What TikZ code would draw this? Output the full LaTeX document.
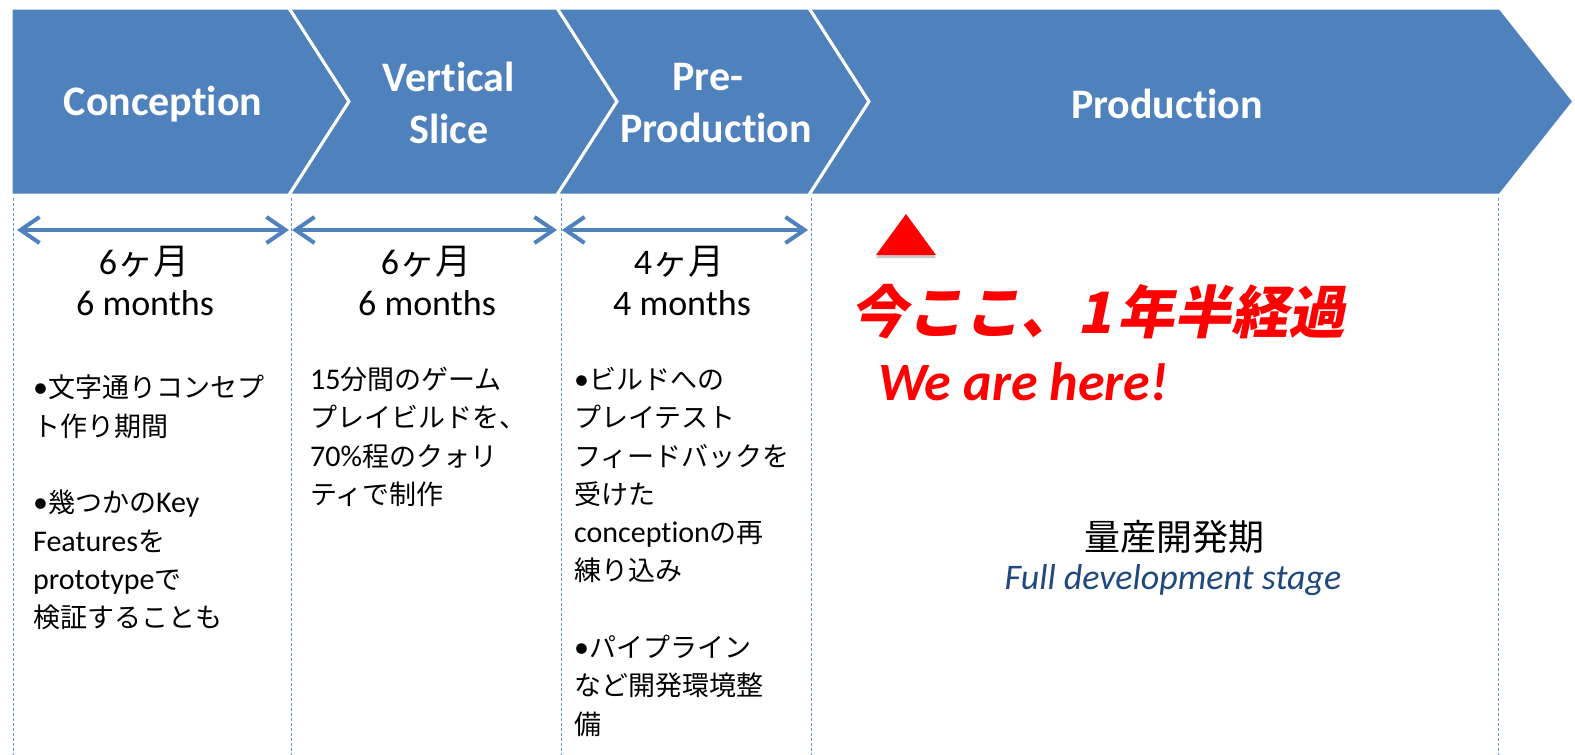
\documentclass[tikz,border=0pt]{standalone}
\usepackage{fontspec}
\setmainfont{Carlito}[Ligatures=NoCommon]
\newfontfamily\jpfont{Noto Sans CJK JP}
\newfontfamily\jpbody[Scale=0.9]{Noto Sans CJK JP}
\newfontfamily\jpslant[FakeSlant=0.2]{Noto Sans CJK JP}
\usetikzlibrary{arrows.meta,shadows}
\definecolor{accent}{HTML}{4F81BD}
\definecolor{darkblue}{HTML}{1F497D}
\definecolor{redmark}{HTML}{FF0000}
\newcommand\jt[1]{{\jpfont #1}}
\newcommand\jb[1]{{\jpbody #1}}
\tikzset{
  chev/.style={fill=accent, draw=white, line width=3pt, line join=miter},
  head/.style={text=white, align=center, inner sep=0pt, font=\fontsize{42}{52}\selectfont\bfseries},
  span/.style={draw=accent, line width=4pt, {Straight Barb[length=19pt,width=26pt]}-{Straight Barb[length=19pt,width=26pt]}},
  divider/.style={draw=accent!85, line width=0.9pt, dash pattern=on 3pt off 2pt},
  month/.style={inner sep=0pt, font=\fontsize{36}{42}\selectfont},
  body/.style={anchor=north west, inner sep=0pt, align=left, font=\fontsize{30}{38.3}\selectfont},
  redtext/.style={text=redmark, inner sep=0pt},
}
\begin{document}
\begin{tikzpicture}[x=1pt,y=-1pt]
\useasboundingbox (0,0) rectangle (1575,755);
% dashed dividers
\coordinate (d1t) at (13,198);   \coordinate (d1b) at (13,755);
\coordinate (d2t) at (291,198);  \coordinate (d2b) at (291,755);
\coordinate (d3t) at (561,198);  \coordinate (d3b) at (561,755);
\coordinate (d4t) at (811,198);  \coordinate (d4b) at (811,755);
\coordinate (d5t) at (1498,198); \coordinate (d5b) at (1498,755);
\draw[divider] (d1t) -- (d1b);
\draw[divider] (d2t) -- (d2b);
\draw[divider] (d3t) -- (d3b);
\draw[divider] (d4t) -- (d4b);
\draw[divider] (d5t) -- (d5b);
% chevrons
\path[chev] (11,8) -- (289,8) -- (349,101.5) -- (289,195) -- (11,195) -- cycle;
\path[chev] (289,8) -- (557,8) -- (617,101.5) -- (557,195) -- (289,195) -- (349,101.5) -- cycle;
\path[chev] (557,8) -- (809,8) -- (869,101.5) -- (809,195) -- (557,195) -- (617,101.5) -- cycle;
\path[chev] (809,8) -- (1500,8) -- (1574,101.5) -- (1500,195) -- (809,195) -- (869,101.5) -- cycle;
% headings
\node[head] (hconc) at (163,104) {Conception};
\node[head] (hvert) at (449,103) {Vertical\\Slice};
\node[head] (hpre) at (716,103) {Pre-\hspace*{16pt}\\Production};
\node[head] (hprod) at (1167,104) {Production};
% spans
\coordinate (a1l) at (17,230);  \coordinate (a1r) at (289,230);
\coordinate (a2l) at (292,230); \coordinate (a2r) at (557,230);
\coordinate (a3l) at (562,230); \coordinate (a3r) at (808,230);
\draw[span] (a1l) -- (a1r);
\draw[span] (a2l) -- (a2r);
\draw[span] (a3l) -- (a3r);
% month labels
\node[month] (m1j) at (144,262) {6\jt{ヶ月}};
\node[month] (m1e) at (145,303) {6 months};
\node[month] (m2j) at (426,262) {6\jt{ヶ月}};
\node[month] (m2e) at (427,303) {6 months};
\node[month] (m3j) at (679,262) {4\jt{ヶ月}};
\node[month] (m3e) at (682,303) {4 months};
% body texts
\node[body] (b1) at (33,375) {•\jb{文字通りコンセプ}\\\jb{ト作り期間}\\[38.3pt]•\jb{幾つかの}Key\\Features\jb{を}\\prototype\jb{で}\\\jb{検証することも}};
\node[body] (b2) at (310,367) {15\jb{分間のゲーム}\\\jb{プレイビルドを、}\\70\%\jb{程のクォリ}\\\jb{ティで制作}};
\node[body] (b3) at (574,367) {•\jb{ビルドへの}\\\jb{プレイテスト}\\\jb{フィードバックを}\\\jb{受けた}\\conception\jb{の再}\\\jb{練り込み}\\[38.3pt]•\jb{パイプライン}\\\jb{など開発環境整}\\\jb{備}};
% we are here marker
\path[fill=redmark, drop shadow={shadow xshift=0pt, shadow yshift=-3pt, opacity=0.35, fill=black!60}] (876,255) -- (906,214) -- (936,255) -- cycle;
\node[redtext, font=\fontsize{57}{60}\selectfont\bfseries\jpslant] (now) at (1098,312) {今ここ、1\hspace{6pt}年半経過};
\node[redtext, font=\fontsize{54}{60}\selectfont\bfseries\itshape] (here) at (1023,382) {We are here!};
% production description
\node[month] (pj) at (1174,537) {\jt{量産開発期}};
\node[month, text=darkblue, font=\fontsize{36}{42}\selectfont\itshape] (pe) at (1173,580) {Full development stage};
\end{tikzpicture}
\end{document}
